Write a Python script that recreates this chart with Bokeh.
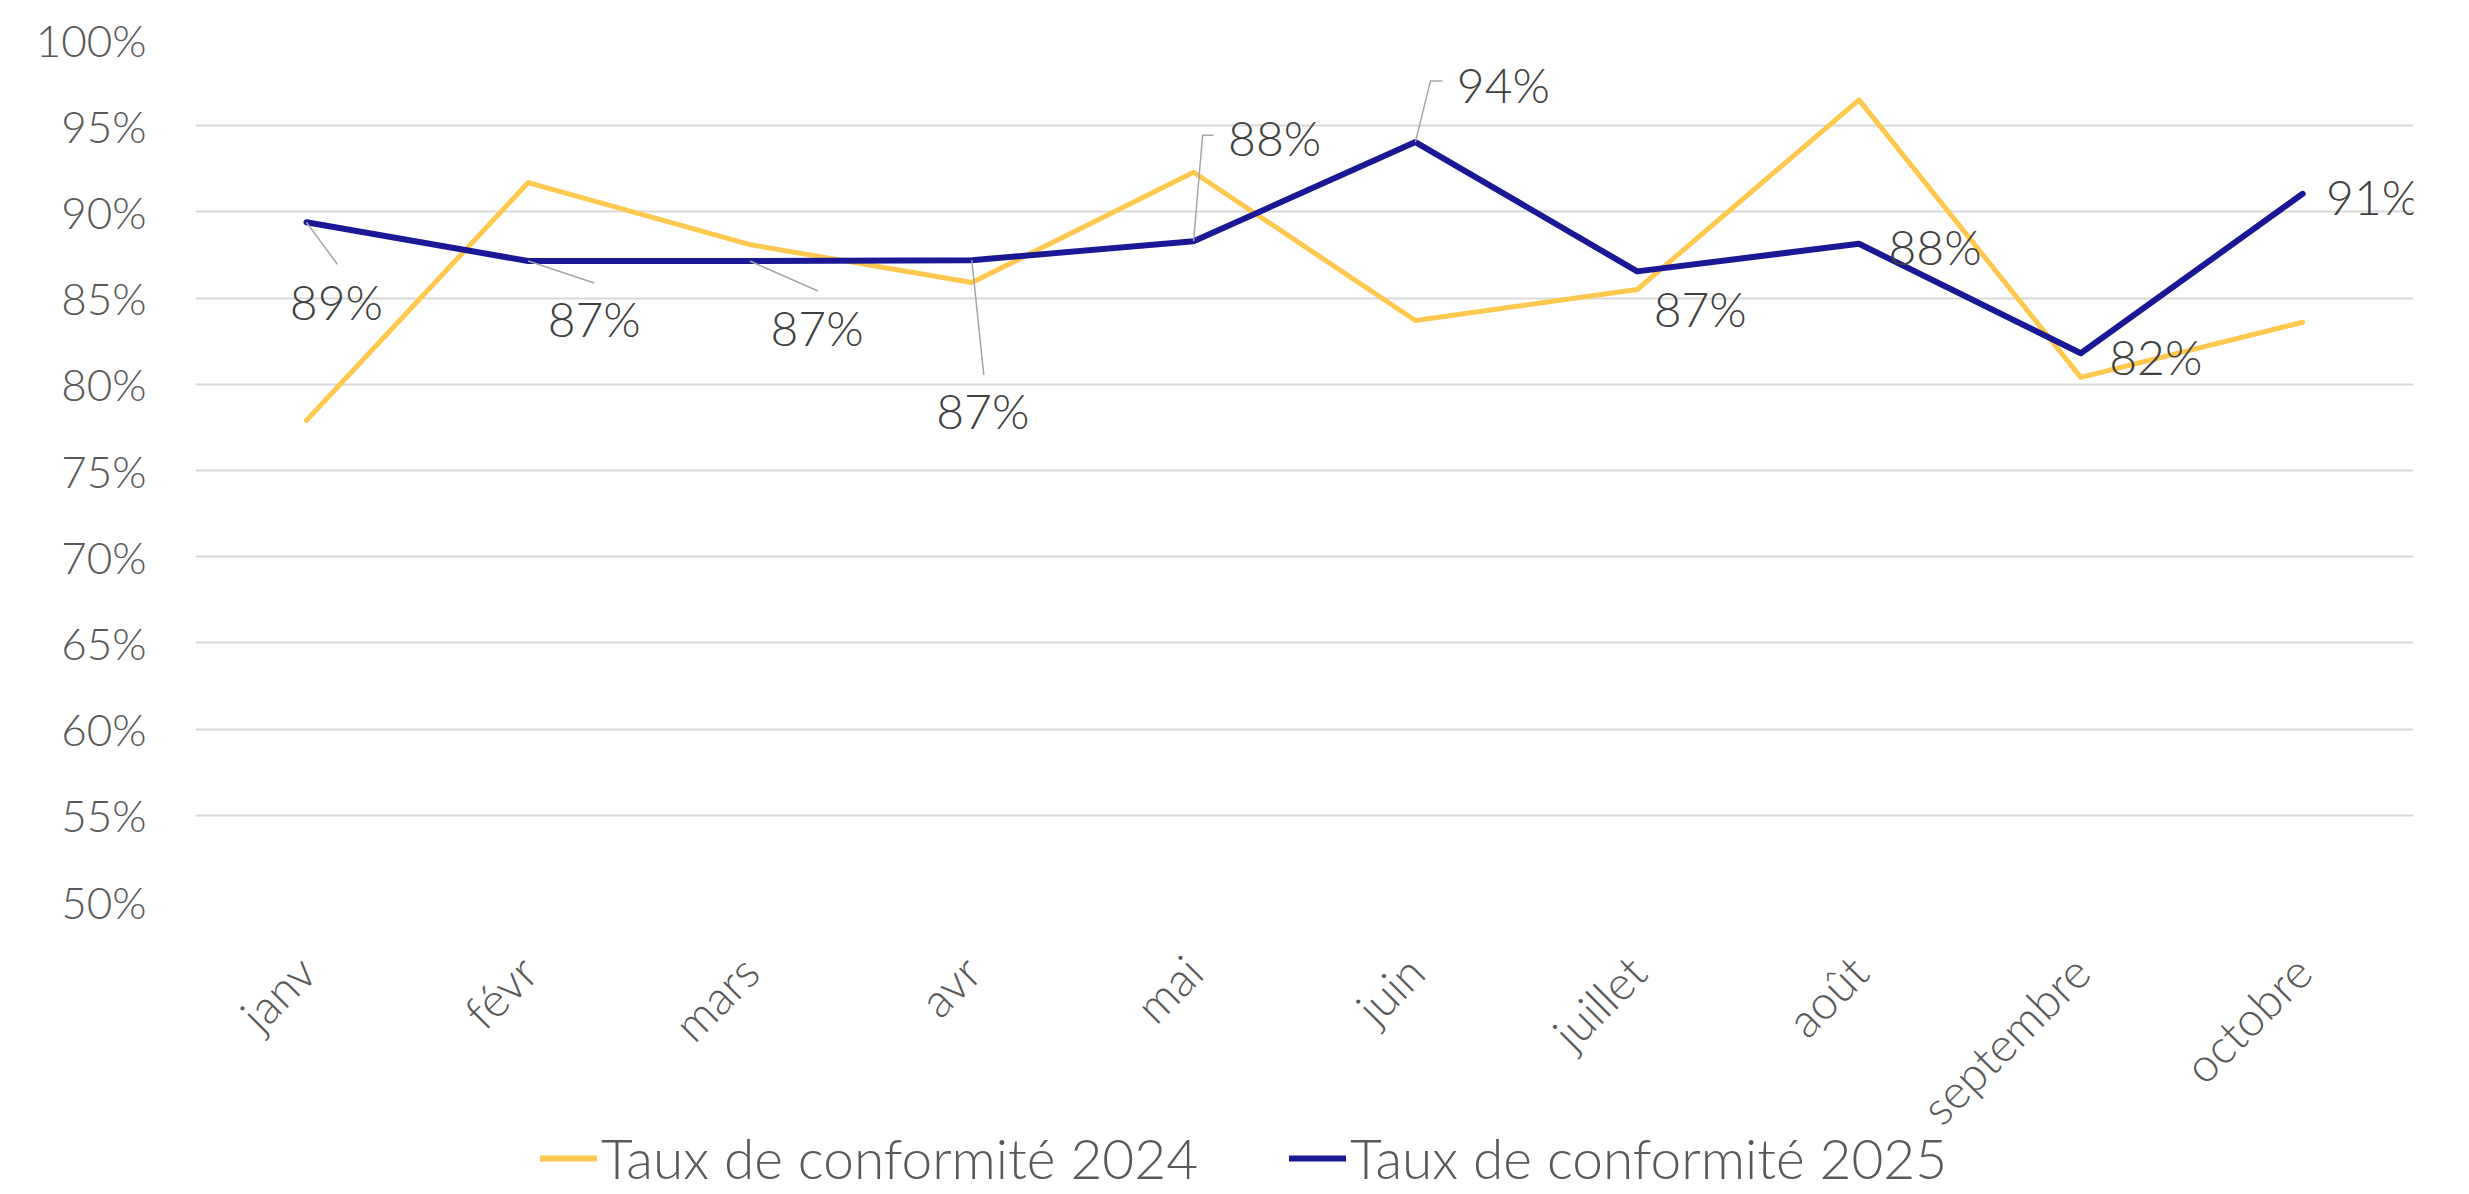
import math
from bokeh.plotting import figure
from bokeh.layouts import column
from bokeh.models import Range1d, FixedTicker, Legend, LegendItem
from bokeh.core.properties import value
from bokeh.embed import file_html
from bokeh.resources import INLINE

# ---------------- data ----------------
months = ["janv", "févr", "mars", "avr", "mai", "juin", "juillet", "août", "septembre", "octobre"]
taux_2024 = [77.9, 91.7, 88.1, 85.9, 92.3, 83.7, 85.5, 96.5, 80.4, 83.6]
taux_2025 = [89.4, 87.15, 87.15, 87.2, 88.3, 94.05, 86.55, 88.15, 81.8, 91.05]
series_names = ["Taux de conformité 2024", "Taux de conformité 2025"]
y_ticks = [50, 55, 60, 65, 70, 75, 80, 85, 90, 95, 100]
y_tick_labels = ["50%", "55%", "60%", "65%", "70%", "75%", "80%", "85%", "90%", "95%", "100%"]

# ---------------- style ----------------
FONT = "Lato Light, Lato"
W, H = 2469, 1194
LEG_H = 72
BL, BR, BT, BB = 195, 56, 39, 293
FRAME_W = W - BL - BR
FRAME_H = H - BT - BB
X0, X1 = -0.5, len(months) - 0.5
Y0, Y1 = 50, 100
PX_X = (X1 - X0) / FRAME_W
PX_Y = (Y1 - Y0) / FRAME_H

YELLOW = "#FFC84F"
BLUE = "#1B1896"

# data label offsets in screen px (x right, y down) and leader polylines
label_offsets = [(30, 79), (66, 57), (67, 66), (11, 150), (81, -104),
                 (88, -58), (63, 37), (76, 3), (75, 3), (70, 3)]
leaders = {0: [(0, 0), (31, 42)],
           1: [(0, 0), (66, 22)],
           2: [(0, 0), (68, 30)],
           3: [(0, 0), (12, 115)],
           4: [(0, 0), (9, -106), (20, -106)],
           5: [(0, 0), (15, -61), (27, -61)]}

p = figure(width=W, height=H, output_backend="svg", toolbar_location=None,
           x_range=Range1d(X0, X1), y_range=Range1d(Y0, Y1),
           min_border_left=BL, min_border_right=BR, min_border_top=BT, min_border_bottom=BB)
p.outline_line_color = None
p.background_fill_color = "white"
p.border_fill_color = "white"
p.xgrid.grid_line_color = None
p.ygrid.grid_line_color = "#D9D9D9"
p.ygrid.grid_line_width = 2

xs = list(range(len(months)))

p.line(xs, taux_2024, line_color=YELLOW, line_width=5, line_join="round", line_cap="round")
p.line(xs, taux_2025, line_color=BLUE, line_width=6, line_join="round", line_cap="round")

# leader lines
lx, ly = [], []
for i, pts in leaders.items():
    lx.append([xs[i] + dx * PX_X for dx, dy in pts])
    ly.append([taux_2025[i] - dy * PX_Y for dx, dy in pts])
p.multi_line(lx, ly, line_color="#A6A6A6", line_width=1.5)

# data labels
p.text(x=xs, y=taux_2025, text=[f"{round(v)}%" for v in taux_2025],
       x_offset=[o[0] for o in label_offsets], y_offset=[o[1] for o in label_offsets],
       text_font=value(FONT), text_font_size="48px", text_color="#404040",
       text_align="center", text_baseline="middle")

# axes
p.xaxis.ticker = FixedTicker(ticks=xs)
p.xaxis.major_label_overrides = {i: m for i, m in enumerate(months)}
p.xaxis.major_label_orientation = math.pi / 4
p.xaxis.axis_line_color = None
p.xaxis.major_tick_line_color = None
p.xaxis.minor_tick_line_color = None
p.xaxis.major_label_text_font = FONT
p.xaxis.major_label_text_font_size = "47px"
p.xaxis.major_label_text_color = "#595959"
p.xaxis.major_label_standoff = 56

p.yaxis.ticker = FixedTicker(ticks=y_ticks)
p.yaxis.major_label_overrides = {t: l for t, l in zip(y_ticks, y_tick_labels)}
p.yaxis.axis_line_color = None
p.yaxis.major_tick_line_color = None
p.yaxis.minor_tick_line_color = None
p.yaxis.major_label_text_font = FONT
p.yaxis.major_label_text_font_size = "44px"
p.yaxis.major_label_text_color = "#595959"
p.yaxis.major_label_standoff = 43

# ---------------- legend strip (overlaid on the bottom of the chart) ----------------
leg = figure(width=W, height=LEG_H, output_backend="svg", toolbar_location=None,
             x_range=Range1d(0, 1), y_range=Range1d(0, 1),
             x_axis_location=None, y_axis_location=None, min_border=0,
             margin=(-LEG_H, 0, 0, 0))
leg.outline_line_color = None
leg.grid.grid_line_color = None
leg.background_fill_alpha = 0
leg.border_fill_alpha = 0
# swatch renderers (their data lie outside the visible range; only the legend glyph shows)
g24 = leg.line([0, 1], [-5, -5], line_color=YELLOW, line_width=6, line_cap="round")
g25 = leg.line([0, 1], [-5, -5], line_color=BLUE, line_width=6, line_cap="round")

legend = Legend(items=[LegendItem(label=series_names[0], renderers=[g24]),
                       LegendItem(label=series_names[1], renderers=[g25])],
                orientation="horizontal", location=(345, 1),
                label_text_font=FONT, label_text_font_size="55px", label_text_color="#595959",
                glyph_width=57, glyph_height=70, label_height=70, label_standoff=4,
                spacing=91, padding=0, margin=0,
                border_line_color=None, background_fill_alpha=0)
leg.add_layout(legend, "center")

open("out.html", "w").write(file_html(column(p, leg), INLINE))
